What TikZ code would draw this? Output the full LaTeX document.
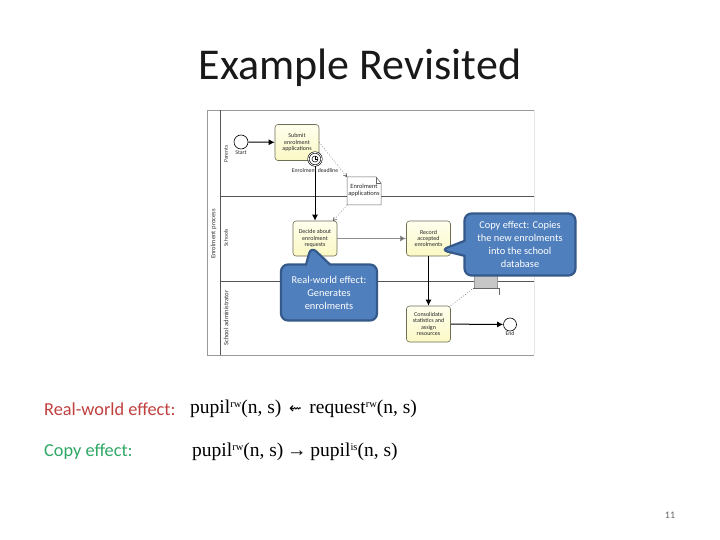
\documentclass[tikz,border=0pt]{standalone}
\usepackage{fontspec}
\setmainfont{Carlito}
\newfontfamily\mathlike{Liberation Serif}
\newfontfamily\symfont{DejaVu Sans}
\usetikzlibrary{arrows.meta,shapes.callouts}
\definecolor{taskfill}{HTML}{FBF8C4}
\definecolor{tasktop}{HTML}{FFFFEE}
\definecolor{taskedge}{HTML}{6E6E55}
\definecolor{callfill}{HTML}{4F7FBC}
\definecolor{calledge}{HTML}{35598A}
\definecolor{redtext}{HTML}{C0403F}
\definecolor{greentext}{HTML}{2FA866}
\definecolor{lanegray}{HTML}{555555}
\newcommand\upidx[1]{\raisebox{6.5pt}{\fontsize{10.5}{11}\selectfont #1}}
\tikzset{
  lane/.style={draw=lanegray,line width=0.7pt},
  frameline/.style={draw=gray!80,line width=0.7pt},
  lanelabel/.style={rotate=90,font=\fontsize{5.6}{6}\selectfont,text=black!80,inner sep=0pt},
  smalltext/.style={font=\fontsize{5.8}{6.6}\selectfont,text=black!85,inner sep=0pt,align=center},
  task/.style={draw=taskedge,top color=tasktop,bottom color=taskfill,rounded corners=3pt,line width=0.6pt,minimum width=44pt,minimum height=36pt,inner sep=1pt,align=center,font=\fontsize{6}{6.2}\selectfont,text=black!85},
  evt/.style={circle,draw=black,fill=white,inner sep=0pt,line width=0.6pt},
  flow/.style={draw=black,line width=1pt,-{Latex[length=6pt,width=6pt]}},
  assoc/.style={draw=black!70,dotted,line width=0.6pt,-{Straight Barb[length=3pt,width=3.5pt]}},
  bubble/.style={rectangle callout,rounded corners=7pt,draw=calledge,fill=callfill,line width=2.2pt,text=white,align=center,inner sep=1pt,font=\fontsize{10.4}{13}\selectfont},
  formula/.style={anchor=west,inner sep=0pt,font=\mathlike\fontsize{19.5}{22}\selectfont,text=black},
  effect/.style={anchor=west,inner sep=0pt,font=\fontsize{18.3}{21}\selectfont},
}
\begin{document}
\begin{tikzpicture}[x=1pt,y=-1pt]
\useasboundingbox[fill=white] (0,0) rectangle (720,540);
\node[inner sep=0pt,font=\fontsize{44}{50}\selectfont,text=black!90] (title) at (360,68) {Example Revisited};
% pool
\fill[white] (207,110.5) rectangle (534,355);
\coordinate (ptl) at (207,110.5);
\coordinate (pbl) at (207,355);
\coordinate (ptr) at (534,110.5);
\coordinate (pbr) at (534,355);
\coordinate (ltop) at (220,110.5);
\coordinate (lbot) at (220,355);
\draw[frameline] (ptr) -- (ptl) -- (pbl) -- (pbr);
\draw[draw=gray!20,line width=0.5pt] (ptr) -- (pbr);
\draw[lane] (ltop) -- (lbot);
\coordinate (l1a) at (220,196.5);
\coordinate (l1b) at (534,196.5);
\coordinate (l2a) at (220,281);
\coordinate (l2b) at (534,281);
\draw[lane] (l1a) -- (l1b);
\draw[lane] (l2a) -- (l2b);
\node[lanelabel,font=\fontsize{6.6}{7}\selectfont] (pool) at (213.5,234) {Enrolment process};
\node[lanelabel] (lanea) at (226,154) {Parents};
\node[lanelabel] (laneb) at (226,238) {Schools};
\node[lanelabel,font=\fontsize{6.6}{7}\selectfont] (lanec) at (226,318) {School administrator};
% events and tasks
\node[evt,minimum size=14pt] (start) at (241,142) {};
\node[smalltext] (startl) at (241,152.5) {Start};
\node[task] (submit) at (297,142.5) {Submit\\enrolment\\applications};
\node[task,minimum height=35pt] (decide) at (315,238.5) {Decide about\\enrolment\\requests};
\node[task,minimum height=35pt] (record) at (428.5,238.5) {Record\\accepted\\enrolments};
\node[task] (consol) at (428.5,324) {Consolidate\\statistics and\\assign\\resources};
\node[evt,minimum size=13pt] (endev) at (510,324.5) {};
\node[smalltext] (endl) at (510,334) {End};
\node[circle,draw=black,fill=white,minimum size=13pt,inner sep=0pt,line width=0.6pt,double,double distance=0.8pt] (timer) at (315,159) {};
\node[circle,draw=black,minimum size=6pt,inner sep=0pt,line width=0.5pt,fill=white] (clock) at (315,159) {};
\draw[line width=0.4pt] (clock.center) -- (clock.north);
\draw[line width=0.4pt] (clock.center) -- (clock.east);
% document
\coordinate (d1) at (347,177);
\coordinate (d2) at (376,177);
\coordinate (d3) at (381,183);
\coordinate (d4) at (381,205);
\coordinate (d5) at (347,205);
\draw[draw=black!60,fill=white,line width=0.5pt] (d1) -- (d2) -- (d3) -- (d4) -- (d5) -- cycle;
\draw[draw=black!60,line width=0.5pt] (d2) -- (376,183) -- (d3);
\node[smalltext,font=\fontsize{6.4}{7}\selectfont] (doc) at (364,190.5) {Enrolment\\applications};
% database
\node[draw=black!40,fill=black!22,line width=0.5pt,minimum width=23pt,minimum height=18pt,inner sep=0pt] (db) at (485.5,279) {};
\coordinate (dbfa) at (473,288.5);
\coordinate (dbfb) at (499,288.5);
\coordinate (dbfc) at (499,295);
\draw[draw=black!60,line width=0.6pt] (dbfa) -- (dbfb) -- (dbfc);
% connectors
\draw[flow] (start) -- (submit);
\draw[flow] (timer) -- (decide.north -| timer);
\node[smalltext] (deadl) at (315,170.5) {Enrolment deadline};
\draw[flow,draw=black!45,line width=1.2pt,-{Latex[length=6pt,width=6pt,fill=black]}] (decide) -- (record);
\draw[flow] (record) -- (consol);
\draw[flow] (consol) -- (endev);
\draw[assoc] (submit.east) -- (d1);
\draw[assoc] (d5) -- (333,221);
\draw[draw=black!60,dotted,line width=0.6pt] (consol.north east) -- (dbfa);
% callouts
\node[bubble,minimum width=111pt,minimum height=62pt,callout absolute pointer={(441,250)},callout pointer width=15pt] (copycall) at (520,244.5) {Copy effect: Copies\\the new enrolments\\into the school\\database};
\node[bubble,minimum width=96pt,minimum height=56pt,callout absolute pointer={(311,246.5)},callout pointer width=24pt] (realcall) at (329,292.5) {Real-world effect:\\Generates\\enrolments};
% formulas
\node[effect,text=redtext] (re) at (44,409) {Real-world effect:};
\node[effect,text=greentext] (ce) at (44,452) {Copy effect:};
\node[formula] (f1) at (190,409) {pupil\upidx{rw}(n, s)\makebox[28pt]{\symfont\fontsize{15}{16}\selectfont ⇜}request\upidx{rw}(n, s)};
\node[formula] (f2) at (192,452) {pupil\upidx{rw}(n, s)\makebox[27pt]{→}pupil\upidx{is}(n, s)};
\node[inner sep=0pt,font=\fontsize{10}{12}\selectfont,text=black!60] (pg) at (670,515) {11};
\end{tikzpicture}
\end{document}
